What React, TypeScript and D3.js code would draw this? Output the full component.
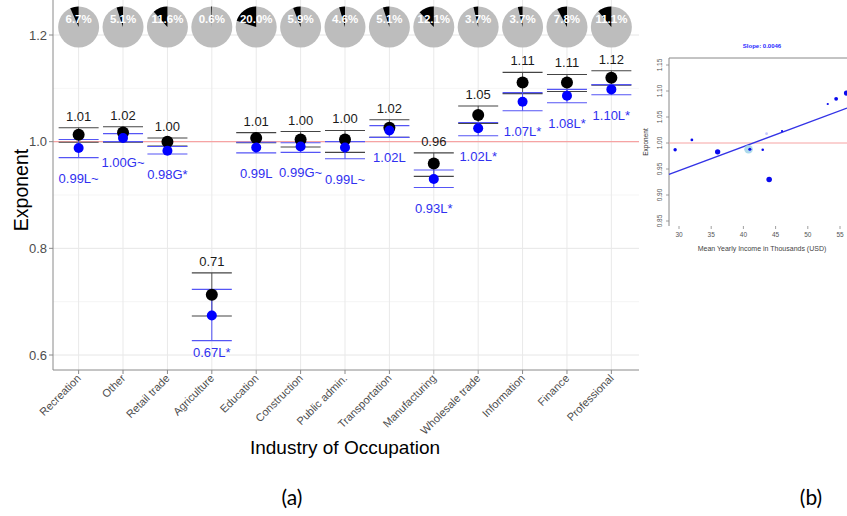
import React from "react";
import * as d3 from "d3";

const categories = ["Recreation","Other","Retail trade","Agriculture","Education","Construction","Public admin.","Transportation","Manufacturing","Wholesale trade","Information","Finance","Professional"];
const shares = [6.7, 5.1, 11.6, 0.6, 20.0, 5.9, 4.6, 5.1, 12.1, 3.7, 3.7, 7.8, 11.1];
const blackEst = [1.013, 1.017, 1.0, 0.713, 1.007, 1.004, 1.004, 1.026, 0.959, 1.05, 1.111, 1.111, 1.12];
const blackLo = [0.999, 0.999, 0.992, 0.673, 0.998, 0.99, 0.98, 1.008, 0.935, 1.034, 1.09, 1.094, 1.106];
const blackHi = [1.026, 1.028, 1.007, 0.754, 1.017, 1.019, 1.021, 1.041, 0.979, 1.067, 1.13, 1.126, 1.133];
const blackLabels = ["1.01","1.02","1.00","0.71","1.01","1.00","1.00","1.02","0.96","1.05","1.11","1.11","1.12"];
const blueEst = [0.988, 1.007, 0.983, 0.674, 0.989, 0.991, 0.989, 1.021, 0.93, 1.025, 1.075, 1.086, 1.098];
const blueLo = [0.97, 1.0, 0.977, 0.627, 0.979, 0.98, 0.968, 1.008, 0.914, 1.011, 1.058, 1.073, 1.088];
const blueHi = [1.004, 1.015, 0.991, 0.723, 0.999, 0.998, 1.0, 1.03, 0.947, 1.036, 1.092, 1.098, 1.107];
const blueLabels = ["0.99L~","1.00G~","0.98G*","0.67L*","0.99L","0.99G~","0.99L~","1.02L","0.93L*","1.02L*","1.07L*","1.08L*","1.10L*"];
const yTicks = [0.6, 0.8, 1.0, 1.2];
const yMinor = [0.7, 0.9, 1.1];

// inset (b)
const insetNames = ["Recreation","Other","Retail trade","Education","Construction","Public admin.","Transportation","Manufacturing","Wholesale trade","Information","Finance","Professional"];
const insetIncome = [29.4, 32.0, 36.0, 40.8, 41.0, 43.0, 43.6, 44.0, 46.0, 53.1, 54.4, 56.0];
const insetExponent = [0.987, 1.006, 0.983, 0.988, 0.988, 0.987, 1.018, 0.930, 1.023, 1.075, 1.085, 1.096];
const insetXTicks = [30, 35, 40, 45, 50, 55];
const insetYTicks = [0.85, 0.90, 0.95, 1.00, 1.05, 1.10, 1.15];
const slope = 0.0046;
const intercept = 0.809;

const F = "'Liberation Sans', Arial, sans-serif";

export default function App() {
  const x = d3.scalePoint<string>().domain(categories).range([52, 638]).padding(0.6);
  const y = d3.scaleLinear().domain([0.6, 1.2]).range([355, 35]);
  const left = 53, right = 639, top = 0, bottom = 370;
  const cap = 20;
  const pie = d3.pie<number>().sort(null).value((d) => d);
  const arc = d3.arc<d3.PieArcDatum<number>>().innerRadius(0).outerRadius(20.5);

  const bx = d3.scaleLinear().domain([30, 55]).range([679, 840]);
  const by = d3.scaleLinear().domain([0.85, 1.15]).range([221, 65]);
  const rScale = d3.scaleLinear().domain([0, 20]).range([0.4, 4.3]);
  const shareByName = new Map(categories.map((c, i) => [c, shares[i]]));

  return (
    <svg width={847} height={516} style={{ position: "absolute", left: 0, top: 0, background: "#fff" }}>
      <rect x={0} y={0} width={847} height={516} fill="#fff" />
      {/* gridlines */}
      {yMinor.map((v) => (
        <line key={"mn" + v} x1={left} x2={right} y1={y(v)} y2={y(v)} stroke="#f2f2f2" strokeWidth={0.8} />
      ))}
      {yTicks.map((v) => (
        <line key={"mj" + v} x1={left} x2={right} y1={y(v)} y2={y(v)} stroke="#e6e6e6" strokeWidth={1} />
      ))}
      {categories.map((c) => (
        <line key={"vg" + c} x1={x(c)} x2={x(c)} y1={top} y2={bottom} stroke="#e9e9e9" strokeWidth={1} />
      ))}
      {/* reference line */}
      <line x1={left} x2={right} y1={y(1)} y2={y(1)} stroke="#f6a3a3" strokeWidth={1.3} />
      {/* pies */}
      {categories.map((c, i) => {
        const arcs = pie([shares[i], 100 - shares[i]]);
        const px = x(c)!;
        return (
          <g key={"pie" + c} transform={`translate(${px},27)`}>
            <circle r={20.5} fill="#bdbdbd" />
            <path d={arc({ ...arcs[0], startAngle: -(shares[i] / 100) * 2 * Math.PI, endAngle: 0 })!} fill="#000" />
            <text x={0} y={-4} textAnchor="middle" fontFamily={F} fontWeight="bold" fontSize={11.5} fill="#fff">
              {shares[i].toFixed(1) + "%"}
            </text>
          </g>
        );
      })}
      {/* error bars */}
      {categories.map((c, i) => {
        const cx = x(c)!;
        return (
          <g key={"eb" + c}>
            <line x1={cx} x2={cx} y1={y(blackHi[i])} y2={y(blackLo[i])} stroke="#555" strokeWidth={1} />
            <line x1={cx - cap} x2={cx + cap} y1={y(blackHi[i])} y2={y(blackHi[i])} stroke="#444" strokeWidth={1.1} />
            <line x1={cx - cap} x2={cx + cap} y1={y(blackLo[i])} y2={y(blackLo[i])} stroke="#444" strokeWidth={1.1} />
            <line x1={cx} x2={cx} y1={y(blueHi[i])} y2={y(blueLo[i])} stroke="#4b4bf5" strokeWidth={1} />
            <line x1={cx - cap} x2={cx + cap} y1={y(blueHi[i])} y2={y(blueHi[i])} stroke="#5555f5" strokeWidth={1.1} />
            <line x1={cx - cap} x2={cx + cap} y1={y(blueLo[i])} y2={y(blueLo[i])} stroke="#5555f5" strokeWidth={1.1} />
            <circle cx={cx} cy={y(blackEst[i])} r={6} fill="#000" />
            <circle cx={cx} cy={y(blueEst[i])} r={5} fill="#0000ff" />
            <text x={cx} y={y(blackHi[i]) - 7} textAnchor="middle" fontFamily={F} fontSize={13} fill="#1a1a1a">
              {blackLabels[i]}
            </text>
            <text x={cx} y={Math.min(y(blueLo[i]) + 25, 357)} textAnchor="middle" fontFamily={F} fontSize={13} fill="#3030f0">
              {blueLabels[i]}
            </text>
          </g>
        );
      })}
      {/* axes */}
      <line x1={left} x2={left} y1={top} y2={bottom} stroke="#8a8a8a" strokeWidth={1} />
      <line x1={left} x2={right} y1={bottom} y2={bottom} stroke="#8a8a8a" strokeWidth={1} />
      {yTicks.map((v) => (
        <g key={"yt" + v}>
          <line x1={left - 4} x2={left} y1={y(v)} y2={y(v)} stroke="#8a8a8a" />
          <text x={left - 6} y={y(v) + 4.5} textAnchor="end" fontFamily={F} fontSize={13} fill="#4d4d4d">
            {v.toFixed(1)}
          </text>
        </g>
      ))}
      {categories.map((c) => (
        <g key={"xt" + c}>
          <line x1={x(c)} x2={x(c)} y1={bottom} y2={bottom + 4} stroke="#8a8a8a" />
          <text
            transform={`translate(${x(c)! + 3},${bottom + 9}) rotate(-45)`}
            textAnchor="end"
            fontFamily={F}
            fontSize={11}
            fill="#4d4d4d"
          >
            {c}
          </text>
        </g>
      ))}
      <text transform="translate(28,190) rotate(-90)" textAnchor="middle" fontFamily={F} fontSize={19.5} fill="#000">
        Exponent
      </text>
      <text x={345} y={454} textAnchor="middle" fontFamily={F} fontSize={19} fill="#000">
        Industry of Occupation
      </text>

      {/* inset (b) */}
      <g>
        <text x={762} y={48} textAnchor="middle" fontFamily={F} fontWeight="bold" fontSize={6} fill="#2a2aff">
          {"Slope:  " + slope.toFixed(4)}
        </text>
        <line x1={669} x2={847} y1={58} y2={58} stroke="#888" strokeWidth={1} />
        <line x1={669} x2={669} y1={58} y2={226} stroke="#888" strokeWidth={1} />
        {insetYTicks.map((v) => (
          <g key={"iy" + v}>
            <line x1={666} x2={669} y1={by(v)} y2={by(v)} stroke="#888" strokeWidth={0.8} />
            <text
              transform={`translate(${662},${by(v)}) rotate(-90)`}
              textAnchor="middle"
              fontFamily={F}
              fontSize={6.5}
              fill="#555"
            >
              {v.toFixed(2)}
            </text>
          </g>
        ))}
        {insetXTicks.map((v) => (
          <g key={"ix" + v}>
            <line x1={bx(v)} x2={bx(v)} y1={226} y2={229} stroke="#888" strokeWidth={0.8} />
            <text x={bx(v)} y={237} textAnchor="middle" fontFamily={F} fontSize={6.5} fill="#555">
              {v}
            </text>
          </g>
        ))}
        <text x={762} y={251} textAnchor="middle" fontFamily={F} fontSize={7} fill="#444">
          Mean Yearly Income in Thousands (USD)
        </text>
        <text transform="translate(648,142) rotate(-90)" textAnchor="middle" fontFamily={F} fontSize={6.5} fill="#333">
          Exponent
        </text>
        <line x1={669} x2={847} y1={by(1)} y2={by(1)} stroke="#f6a3a3" strokeWidth={1} />
        <line
          x1={669}
          x2={847}
          y1={by(intercept + slope * bx.invert(669))}
          y2={by(intercept + slope * bx.invert(847))}
          stroke="#3333e6"
          strokeWidth={1.3}
        />
        {insetNames.map((n, i) => {
          const s = shareByName.get(n) || 1;
          const light = n === "Education";
          const pale = n === "Transportation";
          return (
            <circle
              key={"ip" + n}
              cx={bx(insetIncome[i])}
              cy={by(insetExponent[i])}
              r={rScale(s)}
              fill={light ? "#9fd3e8" : pale ? "#c8c8ff" : "#0a0aee"}
              opacity={light ? 0.85 : 1}
            />
          );
        })}
      </g>

      <text x={292} y={505} textAnchor="middle" fontFamily="Lato, 'Open Sans', sans-serif" fontSize={21} fill="#000">
        (a)
      </text>
      <text x={811} y={505} textAnchor="middle" fontFamily="Lato, 'Open Sans', sans-serif" fontSize={21} fill="#000">
        (b)
      </text>
    </svg>
  );
}
